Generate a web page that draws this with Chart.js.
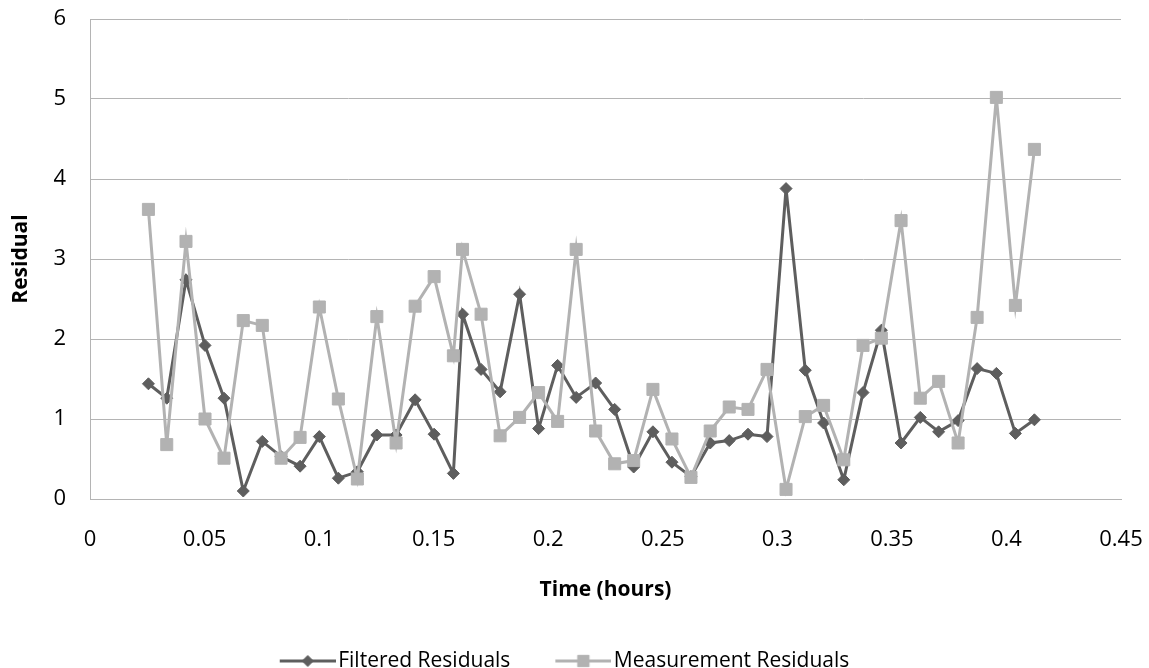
<!DOCTYPE html>
<html>
<head>
<meta charset="utf-8">
<script src="https://cdn.jsdelivr.net/npm/chart.js"></script>
<style>
  html, body { margin: 0; padding: 0; background: #fff; }
  #wrap { width: 1149px; height: 668px; }
</style>
</head>
<body>
<div id="wrap"><canvas id="residuals"></canvas></div>
<script>
// time stamps (hours)
const timeHours = [
  0.0255, 0.0335, 0.0419, 0.0502, 0.0585, 0.0669, 0.0752, 0.0834, 0.0917, 0.1001,
  0.1084, 0.1167, 0.1252, 0.1336, 0.1419, 0.1502, 0.1586, 0.1626, 0.1707, 0.1790,
  0.1875, 0.1958, 0.2041, 0.2122, 0.2207, 0.2290, 0.2373, 0.2457, 0.2540, 0.2623,
  0.2707, 0.2790, 0.2872, 0.2955, 0.3038, 0.3122, 0.3202, 0.3290, 0.3374, 0.3454,
  0.3540, 0.3624, 0.3704, 0.3789, 0.3872, 0.3956, 0.4039, 0.4122
];
const filteredResiduals = [
  1.44, 1.26, 2.74, 1.92, 1.26, 0.10, 0.72, 0.53, 0.41, 0.78,
  0.26, 0.34, 0.80, 0.80, 1.24, 0.81, 0.32, 2.31, 1.62, 1.34,
  2.56, 0.88, 1.67, 1.27, 1.45, 1.12, 0.40, 0.84, 0.46, 0.28,
  0.70, 0.73, 0.81, 0.78, 3.88, 1.61, 0.95, 0.24, 1.33, 2.11,
  0.70, 1.02, 0.84, 0.98, 1.63, 1.57, 0.82, 0.99
];
const measurementResiduals = [
  3.62, 0.68, 3.22, 1.00, 0.51, 2.23, 2.17, 0.51, 0.77, 2.40,
  1.25, 0.25, 2.28, 0.70, 2.41, 2.78, 1.79, 3.12, 2.31, 0.79,
  1.02, 1.33, 0.97, 3.12, 0.85, 0.44, 0.48, 1.37, 0.75, 0.27,
  0.85, 1.15, 1.12, 1.62, 0.12, 1.03, 1.17, 0.49, 1.92, 2.01,
  3.48, 1.26, 1.47, 0.70, 2.27, 5.02, 2.42, 4.37
];
const xTickLabels = ['0', '0.05', '0.1', '0.15', '0.2', '0.25', '0.3', '0.35', '0.4', '0.45'];
const yTickLabels = ['0', '1', '2', '3', '4', '5', '6'];

const darkGrey = '#5e5e5e';
const lightGrey = '#b2b2b2';
const gridGrey = '#b4b4b4';
const fontFamily = "'Open Sans', sans-serif";

// little line + marker picture for the legend entries
function legendIcon(color, pointStyle, radius) {
  const c = document.createElement('canvas');
  c.width = 64;
  c.height = 18;
  const g = c.getContext('2d');
  g.strokeStyle = color;
  g.fillStyle = color;
  g.lineWidth = 3;
  g.beginPath();
  g.moveTo(8, 9);
  g.lineTo(64, 9);
  g.stroke();
  g.lineWidth = 1;
  Chart.helpers.drawPoint(g, {pointStyle: pointStyle, radius: radius, borderWidth: 1, rotation: 0}, 36, 9);
  return c;
}

const toPoints = values => timeHours.map((t, i) => ({x: t, y: values[i]}));

const ctx = document.getElementById('residuals');

new Chart(ctx, {
  type: 'line',
  data: {
    datasets: [{
      label: 'Filtered Residuals',
      data: toPoints(filteredResiduals),
      borderColor: darkGrey,
      backgroundColor: darkGrey,
      borderWidth: 3,
      pointStyle: 'rectRot',
      pointRadius: 6,
      pointBorderWidth: 1,
      pointHoverRadius: 6,
      order: 2
    }, {
      label: 'Measurement Residuals',
      data: toPoints(measurementResiduals),
      borderColor: lightGrey,
      backgroundColor: lightGrey,
      borderWidth: 3,
      pointStyle: 'rect',
      pointRadius: 8.5,
      pointBorderWidth: 1,
      pointHoverRadius: 8.5,
      order: 1
    }]
  },
  options: {
    responsive: true,
    maintainAspectRatio: false,
    animation: false,
    layout: {
      padding: {top: 19, right: 28, bottom: -13.5, left: 8}
    },
    plugins: {
      tooltip: {enabled: false},
      legend: {
        position: 'bottom',
        labels: {
          usePointStyle: true,
          pointStyleWidth: 48,
          padding: 45,
          color: '#000',
          font: {family: fontFamily, size: 21},
          generateLabels: chart => chart.data.datasets.map((ds, i) => ({
            text: ds.label,
            datasetIndex: i,
            hidden: !chart.isDatasetVisible(i),
            fontColor: '#000',
            lineWidth: 0,
            pointStyle: legendIcon(ds.borderColor, ds.pointStyle, ds.pointStyle === 'rect' ? 8 : 5.5)
          }))
        }
      }
    },
    scales: {
      x: {
        type: 'linear',
        min: 0,
        max: 0.45,
        afterFit: scale => { scale.height = 106.5; },
        ticks: {
          stepSize: 0.05,
          padding: 0,
          maxRotation: 0,
          autoSkip: false,
          color: '#000',
          font: {family: fontFamily, size: 22},
          callback: (value, index) => xTickLabels[index]
        },
        // invisible tick marks only push the labels away from the axis
        grid: {drawOnChartArea: false, drawTicks: true, tickLength: 28, tickColor: 'rgba(0,0,0,0)'},
        border: {display: true, color: gridGrey, width: 1},
        title: {
          display: true,
          text: 'Time (hours)',
          color: '#000',
          font: {family: fontFamily, size: 21, weight: 'bold'},
          padding: {top: 0, bottom: 3}
        }
      },
      y: {
        min: 0,
        max: 6,
        afterFit: scale => { scale.width = 82; },
        ticks: {
          stepSize: 1,
          padding: 0,
          color: '#000',
          font: {family: fontFamily, size: 22},
          callback: (value, index) => yTickLabels[index]
        },
        grid: {color: gridGrey, lineWidth: 1, drawTicks: true, tickLength: 24, tickColor: 'rgba(0,0,0,0)'},
        border: {display: true, color: gridGrey, width: 1},
        title: {
          display: true,
          text: 'Residual',
          color: '#000',
          font: {family: fontFamily, size: 21, weight: 'bold'},
          padding: {top: 0, bottom: 0}
        }
      }
    }
  }
});
</script>
</body>
</html>
